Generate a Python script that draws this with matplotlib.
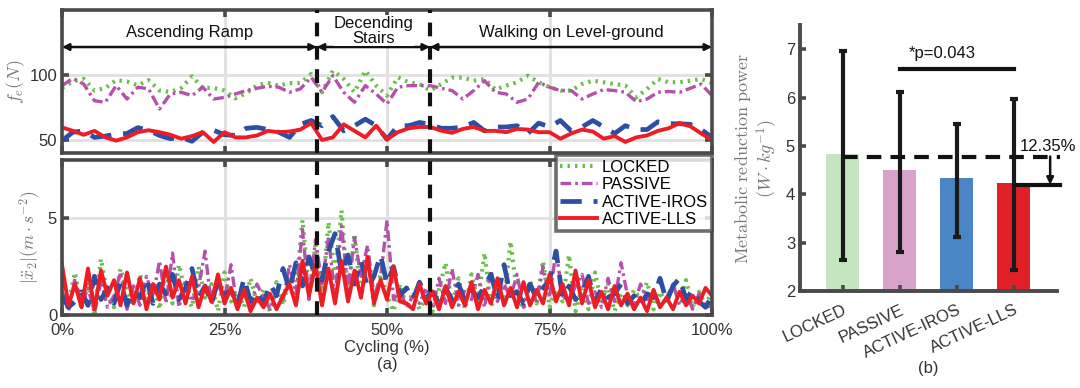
"""Interaction force / acceleration traces and metabolic power bars."""

import matplotlib
matplotlib.use("Agg")
import matplotlib.pyplot as plt
import numpy as np

# ---- (a) top: interaction force f_e (N), 61 samples over the cycle
force_locked = [
    90, 95, 97, 88, 90, 96, 95, 92, 96, 88, 87, 90, 99, 90, 90, 88, 82, 86, 92, 94,
    91.8, 93.8, 93.8, 100.8, 86.7, 103.3, 96.9, 86.7, 103.3, 91.8, 84.1, 98.2, 94.4, 93, 88, 93, 98, 98, 95.6, 96.9,
    88.8, 91.8, 94.4, 99.5, 94.4, 90.6, 88, 88, 93, 95.6, 94.4, 93, 91.8, 82.8, 89.2, 96.9, 94.4, 94.4, 95.6, 96.9,
    93.8,
]
force_passive = [
    91.8, 97.4, 93, 80.2, 79, 91.8, 81.5, 90.6, 89.3, 73.8, 85.4, 86.7, 84.1, 90.6, 81.5, 82.8, 85.4, 88, 89.8, 91.3,
    90.6, 86.7, 89.3, 98.2, 86.7, 99.5, 86.7, 79, 91.8, 85.4, 77.7, 90.6, 91.8, 91.8, 91.8, 89.8, 88, 81.5, 88, 95.6,
    86.7, 85.4, 79, 81.5, 94.4, 90.6, 88, 88, 81.5, 85.4, 88.8, 88, 86.7, 79.5, 81.5, 86.7, 87.3, 86.7, 89.8, 93,
    84.1,
]
force_iros = [
    49.5, 56, 57, 52, 53, 54.5, 55, 59.5, 57.5, 53.5, 51, 52, 49, 56, 57.5, 54, 53.5, 59, 59.7, 58,
    56, 52, 62, 65, 61, 68, 57, 61, 66, 61, 50.5, 61, 61, 63.5, 62, 59, 59, 60, 63.5, 57,
    60, 60, 61, 55, 63, 60, 65, 57, 60, 65, 60, 55, 61, 58, 58, 64, 62.5, 62.5, 62, 58,
    52,
]
force_lls = [
    59.7, 57, 54, 57, 52, 49.5, 52, 56, 57.5, 56, 54, 51, 53, 56, 48.5, 56, 52, 52, 53.5, 57,
    56, 56.5, 58, 63, 50, 52, 62, 57, 52, 61, 50.5, 56, 59, 60, 60, 57.2, 55.5, 58.5, 60, 57,
    57, 56, 58.5, 58, 56, 56, 51, 55, 58, 56.5, 51, 53, 48.5, 52, 53.5, 57, 59, 63, 60.5, 55,
    50,
]

# ---- (a) bottom: |x2 acceleration| (m/s^2), 101 samples over the cycle
acc_locked = [
    1.5, 0.6, 2.2, 0.3, 1.8, 0.1, 2.9, 1.0, 0.4, 2.4,
    1.2, 0.5, 2.1, 0.8, 1.7, 0.3, 2.3, 0.6, 2.6, 1.1,
    0.4, 2.5, 0.9, 1.6, 0.2, 2.2, 0.7, 1.2, 0.4, 1.9,
    0.6, 1.3, 0.2, 1.7, 0.5, 2.0, 1.4, 4.9, 1.2, 3.6,
    0.8, 4.8, 2.0, 5.4, 1.0, 4.2, 0.9, 3.0, 0.5, 2.1,
    1.0, 0.2, 1.6, 0.4, 1.2, 0.3, 0.9, 0.2, 1.3, 2.7,
    0.5, 1.9, 0.3, 2.1, 0.7, 3.2, 0.4, 1.5, 0.6, 3.8,
    1.1, 0.3, 1.8, 0.6, 2.8, 0.4, 1.3, 0.7, 3.1, 0.2,
    1.4, 0.3, 2.2, 0.6, 1.6, 0.2, 1.1, 0.5, 1.3, 0.8,
    1.7, 0.3, 1.2, 0.6, 1.5, 0.9, 1.8, 0.4, 1.2, 0.5,
    1.2,
]
acc_passive = [
    1.2, 0.2, 1.9, 0.5, 1.4, 0.1, 1.8, 0.4, 1.0, 2.2,
    0.3, 1.5, 0.5, 2.0, 0.9, 2.8, 0.6, 3.2, 0.4, 1.8,
    0.7, 1.4, 3.3, 0.5, 1.6, 0.8, 2.6, 0.3, 1.2, 0.5,
    1.6, 0.9, 0.3, 1.2, 0.7, 2.6, 1.1, 4.4, 0.8, 3.9,
    1.6, 4.0, 0.9, 4.6, 1.3, 4.0, 2.0, 3.6, 1.0, 1.9,
    4.9, 0.8, 1.3, 0.4, 1.0, 0.6, 1.4, 0.3, 1.9, 0.6,
    2.4, 0.5, 1.3, 0.8, 2.1, 0.4, 2.3, 0.7, 1.6, 0.9,
    2.1, 0.4, 1.7, 0.6, 2.5, 0.9, 3.3, 1.0, 0.7, 1.5,
    2.1, 0.6, 1.2, 0.4, 1.9, 0.7, 2.7, 1.0, 0.5, 1.6,
    0.8, 1.3, 0.4, 0.9, 1.6, 0.5, 1.2, 0.3, 1.1, 0.4,
    0.5,
]
acc_iros = [
    1.0, 0.4, 0.7, 1.2, 0.5, 2.0, 0.8, 1.4, 0.6, 1.7,
    0.5, 1.3, 0.9, 1.9, 0.6, 1.6, 1.1, 2.1, 0.8, 1.4,
    2.4, 0.9, 1.5, 0.6, 1.8, 1.0, 1.3, 0.5, 1.9, 0.7,
    1.2, 0.6, 1.6, 1.0, 2.4, 1.3, 2.7, 1.5, 3.0, 2.0,
    1.8, 3.3, 4.2, 2.2, 3.1, 1.6, 2.8, 1.4, 2.0, 3.1,
    1.6, 2.5, 1.0, 1.4, 0.8, 1.7, 0.9, 1.2, 0.6, 1.4,
    0.8, 1.6, 0.7, 1.3, 0.9, 1.5, 2.1, 0.8, 2.6, 1.0,
    1.2, 0.6, 1.6, 0.9, 1.4, 1.8, 3.3, 0.9, 1.5, 0.8,
    1.2, 2.0, 0.6, 1.4, 0.9, 1.1, 1.6, 0.6, 1.0, 0.5,
    1.1, 0.9, 1.9, 0.7, 1.5, 1.9, 0.8, 1.3, 0.7, 0.4,
    1.0,
]
acc_lls = [
    2.6, 0.5, 1.6, 0.4, 2.4, 0.3, 2.3, 1.0, 1.8, 0.5,
    2.2, 0.6, 1.9, 0.3, 1.6, 0.8, 2.5, 0.9, 1.8, 0.6,
    2.0, 0.4, 1.5, 0.7, 2.1, 0.6, 1.4, 0.3, 1.3, 0.2,
    0.9, 0.4, 1.1, 0.3, 1.0, 1.6, 0.5, 2.8, 1.0, 2.6,
    0.5, 2.4, 0.6, 2.8, 0.7, 2.3, 0.9, 3.0, 0.6, 1.8,
    0.8, 2.5, 0.7, 0.6, 0.3, 1.6, 0.6, 1.2, 0.3, 1.5,
    0.4, 1.2, 0.5, 1.7, 0.3, 1.3, 0.6, 1.9, 0.5, 1.4,
    0.4, 1.7, 0.5, 1.3, 0.6, 2.1, 0.7, 1.6, 0.5, 2.3,
    0.6, 1.8, 0.4, 1.2, 0.3, 1.5, 0.5, 1.1, 0.3, 0.9,
    0.2, 1.3, 0.4, 0.9, 0.3, 1.2, 0.5, 1.0, 0.6, 1.4,
    1.0,
]

phase_bounds = [39.2, 56.6]  # % of cycle where terrain changes
phase_labels = ["Ascending Ramp", "Decending\nStairs", "Walking on Level-ground"]

# ---- (b) metabolic reduction power
conditions = ["LOCKED", "PASSIVE", "ACTIVE-IROS", "ACTIVE-LLS"]
power_mean = [4.83, 4.50, 4.33, 4.23]
power_low = [2.64, 2.80, 3.11, 2.43]
power_high = [6.96, 6.11, 5.46, 5.98]
locked_ref = 4.78
reduction_text = "12.35%"
p_text = "*p=0.043"

series_names = ["LOCKED", "PASSIVE", "ACTIVE-IROS", "ACTIVE-LLS"]
line_colors = ["#6cbf4a", "#b550ab", "#2c4ea3", "#ee1d25"]
bar_colors = ["#c5e4c0", "#d7a3c9", "#4a85c5", "#e11f26"]
FRAME = "#4a4a4a"
GRID = "#e0e0e0"

plt.rcParams["font.family"] = ["Liberation Sans", "DejaVu Sans"]
plt.rcParams["mathtext.fontset"] = "cm"

fig = plt.figure(figsize=(10.8, 3.88), dpi=100)
ax_top = fig.add_axes([0.0574, 0.6057, 0.6019, 0.3686])
ax_bot = fig.add_axes([0.0574, 0.188, 0.6019, 0.3995])
ax_bar = fig.add_axes([0.7407, 0.25, 0.238, 0.6856])

styles = [
    dict(linestyle=(0, (0.6, 1.2)), linewidth=3.0),
    dict(linestyle=(0, (3.2, 1.2, 0.8, 1.2)), linewidth=2.4),
    dict(linestyle=(0, (4.5, 2.5)), linewidth=3.4),
    dict(linestyle="-", linewidth=2.8),
]

x_top = np.linspace(0, 100, len(force_locked))
x_bot = np.linspace(0, 100, len(acc_locked))
top_series = [force_locked, force_passive, force_iros, force_lls]
bot_series = [acc_locked, acc_passive, acc_iros, acc_lls]

for axis in (ax_top, ax_bot):
    axis.set_xlim(0, 100)
    axis.set_xticks([0, 25, 50, 75, 100])
    axis.grid(True, color=GRID, linewidth=2.0)
    axis.set_axisbelow(True)
    for spine in axis.spines.values():
        spine.set_linewidth(2.6)
        spine.set_color(FRAME)
    axis.tick_params(direction="in", length=5, width=2.6, color=FRAME,
                     labelsize=12, labelcolor="#333333", top=True, right=True)
    for xb in phase_bounds:
        axis.axvline(xb, color="#111111", linewidth=3.0,
                     linestyle=(0, (3.3, 2.3)), zorder=5)

for ys, name, color, st in zip(top_series, series_names, line_colors, styles):
    ax_top.plot(x_top, ys, color=color, label=name, **st)
ax_top.set_ylim(40, 150)
ax_top.set_yticks([50, 100])
ax_top.tick_params(labelbottom=False)
ax_top.set_ylabel(r"$f_e(N)$", color="#777777", fontsize=13, labelpad=2)

# phase annotations
arrow_y = 121.5
edges = [0] + phase_bounds + [100]
for (x0, x1), label in zip(zip(edges[:-1], edges[1:]), phase_labels):
    ax_top.annotate("", xy=(x1, arrow_y), xytext=(x0, arrow_y),
                    arrowprops=dict(arrowstyle="<|-|>", color="#111111",
                                    linewidth=1.8, mutation_scale=10,
                                    shrinkA=0, shrinkB=0))
    ty = 133 if "\n" not in label else 134
    ax_top.text((x0 + x1) / 2, ty, label, ha="center", va="center",
                fontsize=12, color="#111111", linespacing=1.0,
                bbox=dict(facecolor="white", edgecolor="none", pad=0.5)
                if "\n" in label else None)

for ys, name, color, st in zip(bot_series, series_names, line_colors, styles):
    ax_bot.plot(x_bot, ys, color=color, label=name, **st)
ax_bot.set_ylim(0, 8)
ax_bot.set_yticks([0, 5])
ax_bot.set_xticklabels(["0%", "25%", "50%", "75%", "100%"])
ax_bot.tick_params(axis="x", pad=6)
ax_bot.set_ylabel(r"$|\ddot{x}_2|(m\cdot s^{-2})$", color="#777777",
                  fontsize=12.5, labelpad=4)
ax_bot.set_xlabel("Cycling (%)\n(a)", fontsize=12, color="#333333",
                  labelpad=1, linespacing=1.2)
leg = ax_bot.legend(loc="upper right", bbox_to_anchor=(1.0, 1.03),
                    fontsize=12, frameon=True, fancybox=False,
                    handlelength=2.2, handletextpad=0.3, borderpad=0.25,
                    labelspacing=0.15, borderaxespad=0.0)
leg.get_frame().set_edgecolor(FRAME)
leg.get_frame().set_linewidth(2.6)
leg.set_zorder(10)

# ---- (b)
xb = np.arange(1, len(conditions) + 1)
ax_bar.bar(xb, [m - 2 for m in power_mean], bottom=2, width=0.58,
           color=bar_colors, edgecolor="none", zorder=1)
yerr = [np.array(power_mean) - np.array(power_low),
        np.array(power_high) - np.array(power_mean)]
ax_bar.errorbar(xb, power_mean, yerr=yerr, fmt="none", ecolor="#1a1a1a",
                elinewidth=3.0, capsize=3, capthick=3.0, zorder=3)
ax_bar.set_xlim(0.25, 4.76)
ax_bar.set_ylim(2, 7.5)
ax_bar.set_yticks([2, 3, 4, 5, 6, 7])
ax_bar.set_xticks(xb)
ax_bar.set_xticklabels(conditions, rotation=25, ha="right",
                       rotation_mode="anchor")
for side in ("top", "right"):
    ax_bar.spines[side].set_visible(False)
for side in ("left", "bottom"):
    ax_bar.spines[side].set_linewidth(2.8)
    ax_bar.spines[side].set_color(FRAME)
ax_bar.tick_params(direction="in", length=4, width=2.6, color=FRAME,
                   labelsize=12, labelcolor="#333333")
ax_bar.tick_params(axis="x", pad=8)
ax_bar.set_ylabel(r"$\mathrm{Metabolic\ reduction\ power}$" + "\n"
                  + r"$(W\cdot kg^{-1})$",
                  color="#777777", fontsize=13,
                  linespacing=1.1, labelpad=4)
fig.text(928 / 1080, 1 - 368 / 388, "(b)", ha="center", va="center",
         fontsize=12, color="#333333")

# reference dashed line and reduction arrow
ax_bar.plot([1.0, 4.81], [locked_ref, locked_ref], color="#111111",
            linewidth=3.0, linestyle=(0, (3.5, 2.2)), clip_on=False, zorder=4)
ax_bar.plot([4.0, 4.81], [power_mean[3] - 0.03] * 2, color="#111111",
            linewidth=3.0, clip_on=False, zorder=4)
ax_bar.annotate("", xy=(4.64, power_mean[3] - 0.03), xytext=(4.64, locked_ref),
                arrowprops=dict(arrowstyle="-|>", color="#111111",
                                linewidth=1.8, mutation_scale=10,
                                shrinkA=0, shrinkB=0),
                annotation_clip=False)
ax_bar.text(4.6, 4.98, reduction_text, ha="center", va="center",
            fontsize=12, color="#111111", clip_on=False)

# significance bar
ax_bar.plot([2, 4], [6.6, 6.6], color="#111111", linewidth=3.0, zorder=4)
ax_bar.text(2.75, 6.92, p_text, ha="center", va="center", fontsize=12,
            color="#111111")

fig.savefig("out.png", dpi=100)
